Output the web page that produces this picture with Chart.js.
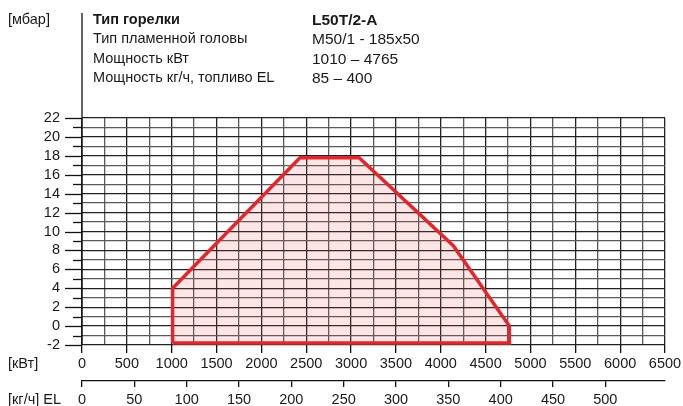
<!DOCTYPE html>
<html lang="ru">
<head>
<meta charset="utf-8">
<title>L50T/2-A</title>
<script src="https://cdn.jsdelivr.net/npm/chart.js@4.4.1/dist/chart.umd.min.js"></script>
<style>
  body { margin: 0; background: #fff; }
  #wrap { position: relative; width: 683px; height: 406px; }
  #chart { display: block; }
  #info {
    position: absolute;
    left: 93px;
    top: 10px;
    font: 14.5px "Liberation Sans", Arial, sans-serif;
    color: #1a1a1a;
    line-height: 19.3px;
  }
  #info .row { display: flex; white-space: nowrap; }
  #info .k { width: 219px; }
  #info .v { font-size: 15.5px; }
  #info .bold { font-weight: bold; }
</style>
</head>
<body>
<div id="wrap">
  <canvas id="chart" width="683" height="406"></canvas>
  <div id="info">
    <div class="row bold"><span class="k">Тип горелки</span><span class="v">L50T/2-A</span></div>
    <div class="row"><span class="k">Тип пламенной головы</span><span class="v">M50/1 - 185x50</span></div>
    <div class="row"><span class="k">Мощность кВт</span><span class="v">1010 – 4765</span></div>
    <div class="row"><span class="k">Мощность кг/ч, топливо EL</span><span class="v">85 – 400</span></div>
  </div>
</div>
<script>
// Working field of the burner: power (kW) against combustion chamber pressure (mbar)
const powerKw = [1010, 1010, 2430, 3090, 4140, 4765, 4765, 1010];
const pressureMbar = [-1.8, 4, 17.8, 17.8, 8.5, 0, -1.8, -1.8];

const kwRange = [0, 6500];
// fuel axis is drawn under the same width; 6500 kW sits at about 557 kg/h
const kgRange = [0, 557];
const kgLastLabel = 500;
const mbarRange = [-2, 22];

const FONT = "'Liberation Sans', Arial, sans-serif";
const INK = "#1a1a1a";

// keep the chart area fixed: no extra room for half labels at the ends
function pinScale(size, isHorizontal) {
  return (scale) => {
    if (isHorizontal) {
      scale.height = size;
    } else {
      scale.width = size;
    }
    scale.paddingLeft = 0;
    scale.paddingRight = 0;
    scale.paddingTop = 0;
    scale.paddingBottom = 0;
  };
}

const decorations = {
  id: "decorations",
  afterDraw(chart) {
    const { ctx, chartArea, scales } = chart;
    const y = scales.y;

    ctx.save();
    ctx.strokeStyle = "#111";
    ctx.lineWidth = 1.3;

    // tall pressure axis running up past the grid
    ctx.beginPath();
    ctx.moveTo(chartArea.left, 13);
    ctx.lineTo(chartArea.left, chartArea.bottom);
    ctx.stroke();

    // tick marks on the left, long ones on labelled values
    for (let v = mbarRange[0]; v <= mbarRange[1]; v++) {
      const py = Math.round(y.getPixelForValue(v)) + 0.5;
      const len = v % 2 === 0 ? 17 : 9;
      ctx.beginPath();
      ctx.moveTo(chartArea.left - len, py);
      ctx.lineTo(chartArea.left, py);
      ctx.stroke();
    }

    ctx.fillStyle = INK;
    ctx.font = "14.5px " + FONT;
    ctx.textBaseline = "middle";
    ctx.textAlign = "left";
    ctx.fillText("[мбар]", 8, 20);
    ctx.fillText("[кВт]", 8, 364);
    ctx.fillText("[кг/ч] EL", 8, 400);
    ctx.restore();
  },
};

new Chart(document.getElementById("chart"), {
  type: "scatter",
  data: {
    datasets: [
      {
        data: powerKw.map((kw, index) => ({ x: kw, y: pressureMbar[index] })),
        showLine: true,
        borderColor: "#e2262e",
        backgroundColor: "rgba(226, 80, 70, 0.14)",
        borderWidth: 3.5,
        fill: "shape",
        tension: 0,
        pointRadius: 0,
        borderJoinStyle: "miter",
      },
    ],
  },
  options: {
    responsive: false,
    animation: false,
    layout: {
      padding: { top: 118, right: 18, left: 0, bottom: 0 },
    },
    plugins: {
      legend: { display: false },
      tooltip: { enabled: false },
    },
    scales: {
      x: {
        type: "linear",
        position: "bottom",
        min: kwRange[0],
        max: kwRange[1],
        afterFit: pinScale(36, true),
        ticks: {
          stepSize: 250,
          autoSkip: false,
          maxRotation: 0,
          padding: 2,
          color: INK,
          font: { family: FONT, size: 14.5 },
          callback(value) {
            return value % 500 === 0 ? String(value) : "";
          },
        },
        grid: {
          color(context) {
            return context.tick && context.tick.value % 500 === 0 ? "#222" : "#5a5a5a";
          },
          lineWidth: 1.3,
          tickLength: 8,
          tickColor(context) {
            return context.tick && context.tick.value % 500 === 0 ? "#111" : "rgba(0,0,0,0)";
          },
        },
        border: { display: false },
      },
      x2: {
        type: "linear",
        position: "bottom",
        min: kgRange[0],
        max: kgRange[1],
        afterFit: pinScale(25, true),
        ticks: {
          stepSize: 50,
          autoSkip: false,
          maxRotation: 0,
          padding: 4,
          color: INK,
          font: { family: FONT, size: 14.5 },
          callback(value) {
            return value % 50 === 0 && value <= kgLastLabel ? String(value) : "";
          },
        },
        grid: {
          drawOnChartArea: false,
          tickLength: 6,
          tickColor(context) {
            return context.tick && context.tick.value % 50 === 0 ? "#111" : "rgba(0,0,0,0)";
          },
          lineWidth: 1.3,
        },
        border: { display: true, color: "#111", width: 1.3 },
      },
      y: {
        type: "linear",
        min: mbarRange[0],
        max: mbarRange[1],
        afterFit: pinScale(82, false),
        ticks: {
          stepSize: 1,
          autoSkip: false,
          padding: 22,
          color: INK,
          font: { family: FONT, size: 14.5 },
          callback(value) {
            return value % 2 === 0 ? String(value) : "";
          },
        },
        grid: {
          color(context) {
            return context.tick && context.tick.value % 2 === 0 ? "#222" : "#5a5a5a";
          },
          lineWidth: 1.3,
          drawTicks: false,
        },
        border: { display: false },
      },
    },
  },
  plugins: [decorations],
});
</script>
</body>
</html>
